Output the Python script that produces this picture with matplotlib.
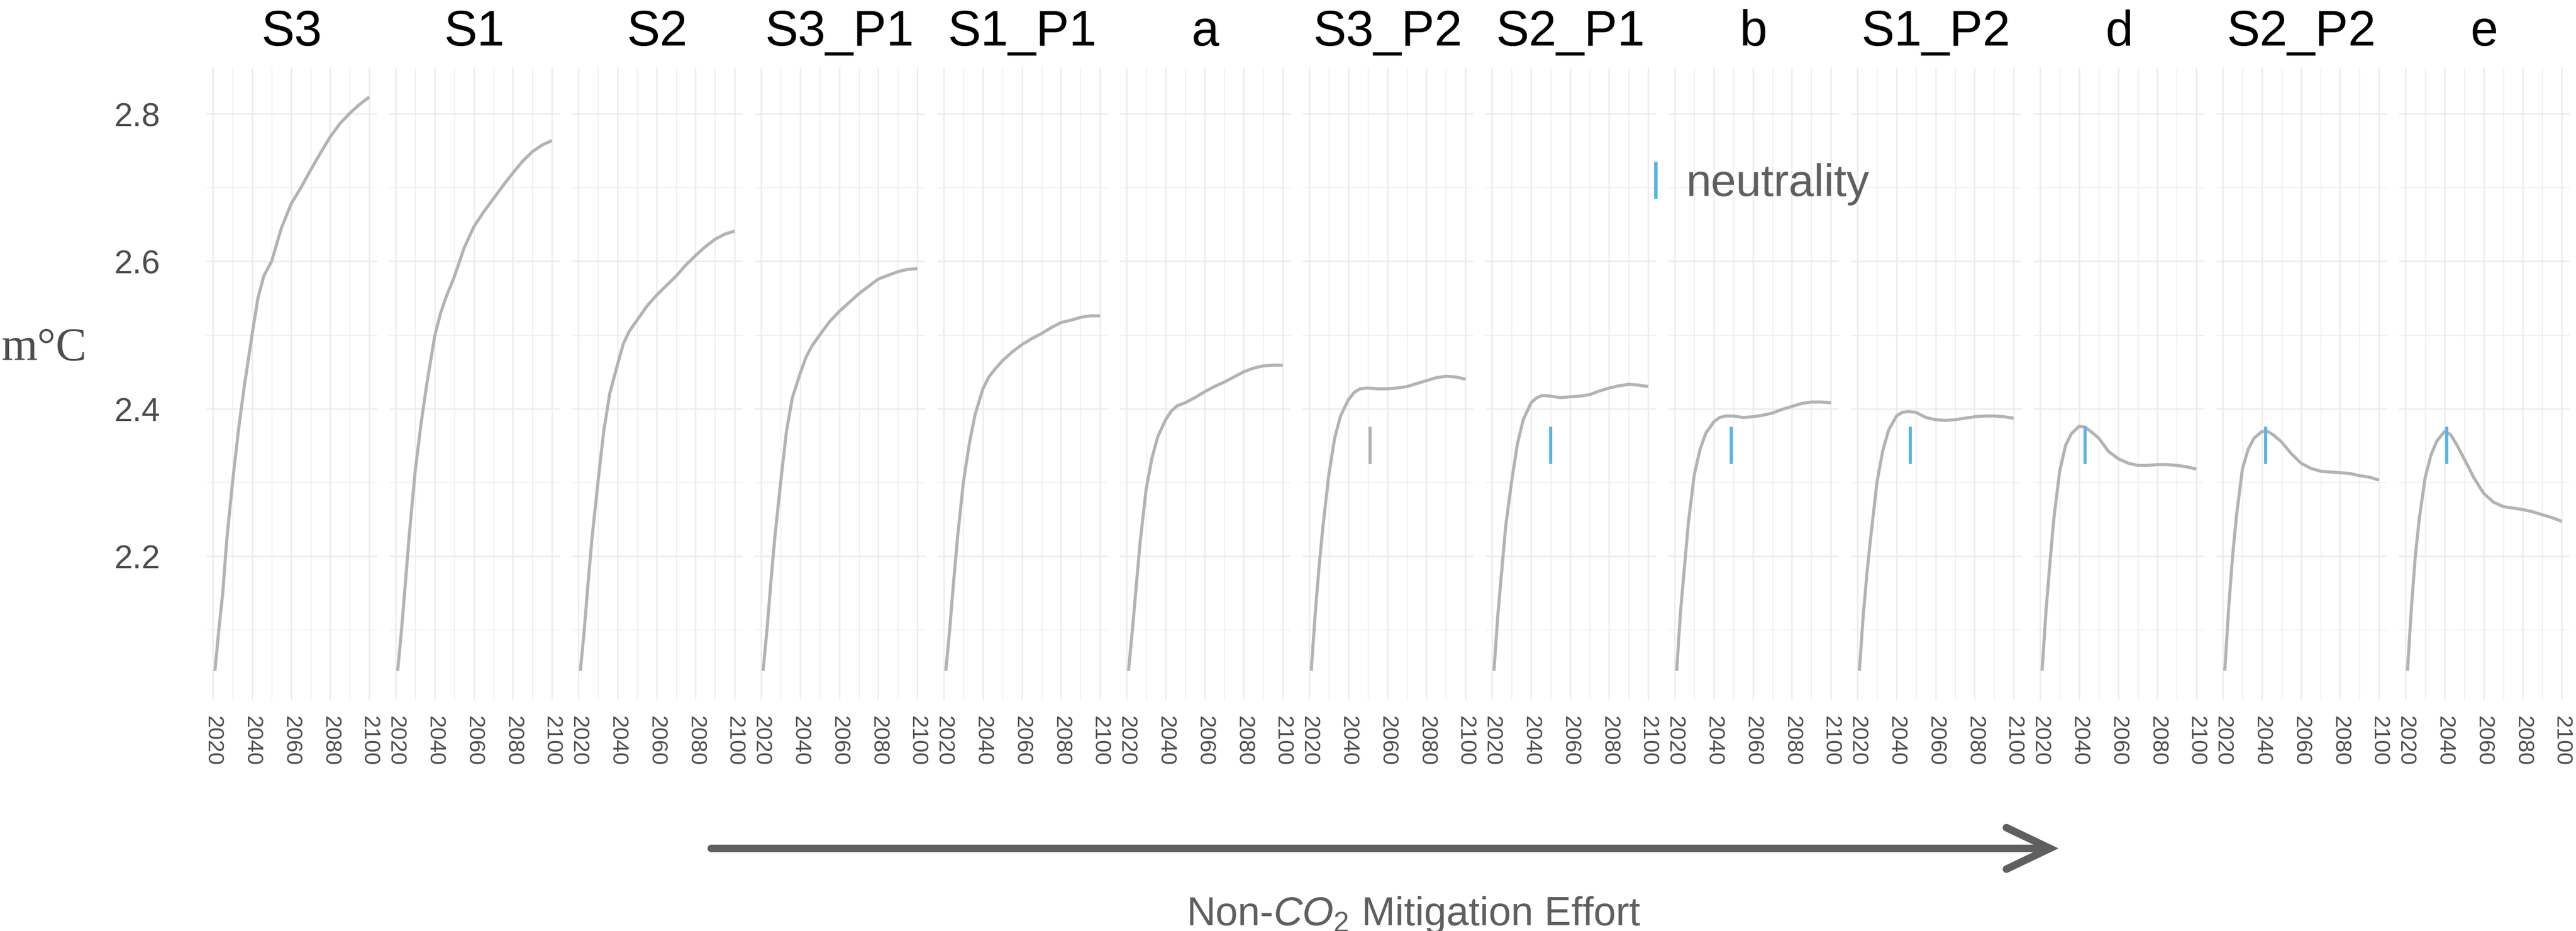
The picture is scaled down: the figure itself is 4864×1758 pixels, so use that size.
# Faceted temperature pathways, one small panel per scenario
import matplotlib.pyplot as plt
from matplotlib.lines import Line2D
from matplotlib.patches import FancyArrowPatch
from matplotlib.ticker import MultipleLocator

plt.rcParams['font.family'] = ['Liberation Sans', 'DejaVu Sans']
plt.rcParams['mathtext.fontset'] = 'custom'
plt.rcParams['mathtext.rm'] = 'Liberation Sans'
plt.rcParams['mathtext.it'] = 'Liberation Sans:italic'

# Data
years = [2021, 2023, 2025, 2027, 2030, 2033, 2036, 2040, 2043, 2046, 2050,
         2055, 2060, 2065, 2070, 2075, 2080, 2085, 2090, 2095, 2100]

panels = ['S3', 'S1', 'S2', 'S3_P1', 'S1_P1', 'a', 'S3_P2', 'S2_P1',
          'b', 'S1_P2', 'd', 'S2_P2', 'e']

temp_S3 = [2.044, 2.100, 2.150, 2.220, 2.300, 2.370, 2.430, 2.500, 2.550, 2.580, 2.600,
           2.645, 2.678, 2.700, 2.724, 2.747, 2.769, 2.787, 2.801, 2.813, 2.823]
temp_S1 = [2.044, 2.100, 2.165, 2.230, 2.316, 2.380, 2.435, 2.499, 2.530, 2.553, 2.579,
           2.618, 2.647, 2.667, 2.685, 2.703, 2.720, 2.736, 2.749, 2.758, 2.764]
temp_S2 = [2.044, 2.100, 2.165, 2.225, 2.300, 2.370, 2.420, 2.460, 2.488, 2.505, 2.520,
           2.539, 2.554, 2.567, 2.580, 2.595, 2.608, 2.620, 2.630, 2.637, 2.641]
temp_S3_P1 = [2.044, 2.100, 2.165, 2.225, 2.300, 2.370, 2.415, 2.448, 2.470, 2.485, 2.500,
              2.518, 2.532, 2.544, 2.556, 2.566, 2.576, 2.581, 2.586, 2.589, 2.590]
temp_S1_P1 = [2.044, 2.100, 2.165, 2.225, 2.300, 2.352, 2.392, 2.427, 2.443, 2.453, 2.465,
              2.477, 2.487, 2.495, 2.502, 2.510, 2.517, 2.520, 2.524, 2.526, 2.526]
temp_a = [2.044, 2.100, 2.160, 2.220, 2.290, 2.333, 2.362, 2.385, 2.397, 2.404, 2.408,
          2.415, 2.423, 2.430, 2.436, 2.443, 2.450, 2.455, 2.458, 2.459, 2.459]
temp_S3_P2 = [2.044, 2.120, 2.185, 2.240, 2.310, 2.360, 2.390, 2.412, 2.422, 2.427, 2.428,
              2.427, 2.427, 2.428, 2.430, 2.434, 2.438, 2.442, 2.444, 2.443, 2.440]
temp_S2_P1 = [2.044, 2.120, 2.180, 2.240, 2.300, 2.352, 2.385, 2.408, 2.415, 2.418, 2.417,
              2.415, 2.416, 2.417, 2.419, 2.424, 2.428, 2.431, 2.433, 2.432, 2.430]
temp_b = [2.044, 2.125, 2.185, 2.245, 2.310, 2.345, 2.367, 2.382, 2.388, 2.390, 2.390,
          2.388, 2.389, 2.391, 2.394, 2.399, 2.403, 2.407, 2.409, 2.409, 2.408]
temp_S1_P2 = [2.044, 2.120, 2.180, 2.230, 2.300, 2.343, 2.371, 2.390, 2.395, 2.396, 2.395,
              2.388, 2.385, 2.384, 2.385, 2.387, 2.389, 2.390, 2.390, 2.389, 2.387]
temp_d = [2.044, 2.125, 2.190, 2.250, 2.315, 2.350, 2.366, 2.376, 2.375, 2.369, 2.360,
          2.342, 2.332, 2.326, 2.323, 2.323, 2.324, 2.324, 2.323, 2.321, 2.318]
temp_S2_P2 = [2.044, 2.130, 2.200, 2.255, 2.318, 2.345, 2.360, 2.369, 2.369, 2.364, 2.355,
              2.339, 2.326, 2.319, 2.315, 2.314, 2.313, 2.312, 2.309, 2.307, 2.303]
temp_e = [2.044, 2.130, 2.200, 2.250, 2.306, 2.337, 2.356, 2.369, 2.365, 2.352, 2.332,
          2.306, 2.285, 2.273, 2.267, 2.265, 2.263, 2.260, 2.256, 2.252, 2.247]

series = {'S3': temp_S3, 'S1': temp_S1, 'S2': temp_S2, 'S3_P1': temp_S3_P1,
          'S1_P1': temp_S1_P1, 'a': temp_a, 'S3_P2': temp_S3_P2, 'S2_P1': temp_S2_P1,
          'b': temp_b, 'S1_P2': temp_S1_P2, 'd': temp_d, 'S2_P2': temp_S2_P2, 'e': temp_e}

# neutrality marks (year of neutrality per panel)
neutral_panels = ['S3_P2', 'S2_P1', 'b', 'S1_P2', 'd', 'S2_P2', 'e']
neutral_years = [2051, 2050, 2049, 2047, 2043, 2042, 2041]
neutral_reached = [False, True, True, True, True, True, True]
neutral_level = 2.35

LINE = '#b3b3b3'
BLUE = '#56B4E9'
GRID = '#ebebeb'
W, H = 4865, 1758

fig = plt.figure(figsize=(W / 300, H / 300), dpi=300)

for i, name in enumerate(panels):
    ax = fig.add_axes([(390 + i * 345) / W, (H - 1321) / H, 322 / W, (1321 - 127.7) / H])
    ax.plot(years, series[name], color=LINE, lw=1.4, solid_capstyle='butt', zorder=3)

    if name in neutral_panels:
        k = neutral_panels.index(name)
        col = BLUE if neutral_reached[k] else LINE
        ax.plot([neutral_years[k]], [neutral_level], ls='none', marker='|',
                ms=16.8, mew=1.4, color=col, zorder=4)

    ax.set_xlim(2016.7, 2104)
    ax.set_ylim(2.005, 2.863)
    ax.xaxis.set_major_locator(MultipleLocator(20))
    ax.xaxis.set_minor_locator(MultipleLocator(10))
    ax.yaxis.set_major_locator(MultipleLocator(0.2))
    ax.yaxis.set_minor_locator(MultipleLocator(0.1))
    ax.grid(which='major', color=GRID, lw=0.6)
    ax.grid(which='minor', color=GRID, lw=0.35)
    ax.set_axisbelow(True)
    for s in ax.spines.values():
        s.set_visible(False)
    ax.tick_params(which='both', length=0)
    ax.tick_params(axis='x', labelsize=10.2, labelcolor='#4d4d4d', pad=7.4, labelrotation=-90)
    if i == 0:
        ax.tick_params(axis='y', labelsize=15, labelcolor='#4d4d4d', pad=20.9)
    else:
        ax.tick_params(axis='y', labelleft=False)
    ax.set_title(name, fontsize=22.5, pad=9.9, color='black')

# legend
h = Line2D([], [], ls='none', marker='|', ms=16.8, mew=1.6, color=BLUE)
fig.legend(handles=[h], labels=['neutrality'], loc='center left',
           bbox_to_anchor=(3083 / W, 1 - 348 / H), frameon=False, fontsize=20.5,
           handlelength=1.0, handletextpad=0.18, borderpad=0, borderaxespad=0,
           labelcolor='#5f5f5f')

# y label
fig.text(2 / W, 1 - 680 / H, 'm°C', family='Liberation Serif', fontsize=21,
         color='#4d4d4d', ha='left', va='baseline')

# arrow and caption underneath
arrow = FancyArrowPatch((1343 / W, 1 - 1602 / H), (3887 / W, 1 - 1602 / H),
                        transform=fig.transFigure,
                        arrowstyle='->,head_length=19.7,head_width=9.4',
                        mutation_scale=1, lw=3.4, color='#5f5f5f',
                        shrinkA=0, shrinkB=0, joinstyle='miter', capstyle='round')
fig.add_artist(arrow)
fig.text(2669 / W, 1 - 1747 / H, r'Non-$\mathit{CO}_2$ Mitigation Effort',
         ha='center', va='baseline', fontsize=18.2, color='#5f5f5f')

fig.savefig('out.png', dpi=300)
